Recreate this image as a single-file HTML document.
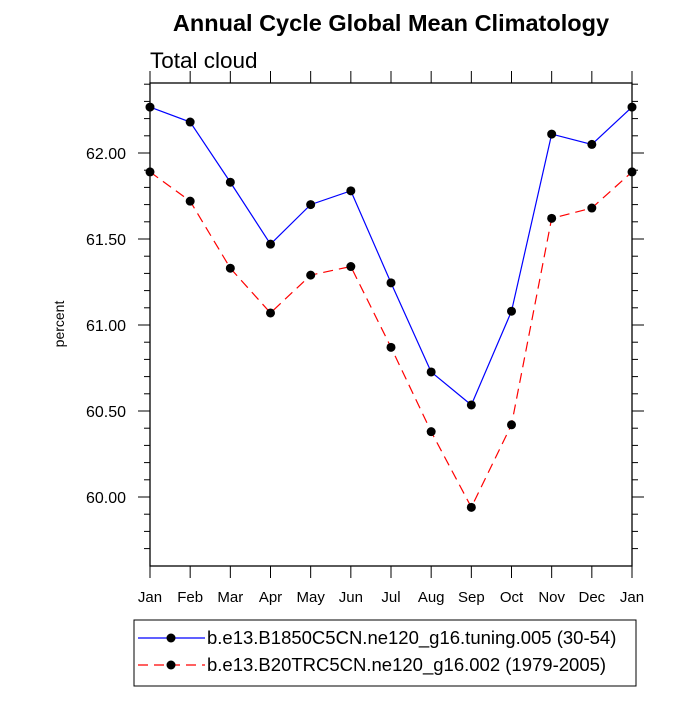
<!DOCTYPE html>
<html><head><meta charset="utf-8"><style>
body{margin:0;background:#fff}
text{font-family:"Liberation Sans",sans-serif}
</style></head><body>
<svg id="c" width="700" height="700" xmlns="http://www.w3.org/2000/svg"></svg>
<script>
const months=["Jan","Feb","Mar","Apr","May","Jun","Jul","Aug","Sep","Oct","Nov","Dec","Jan"];
const blueVals=[62.267,62.18,61.83,61.47,61.70,61.78,61.245,60.727,60.535,61.08,62.11,62.05,62.267];
const redVals=[61.89,61.72,61.33,61.07,61.29,61.34,60.87,60.38,59.94,60.42,61.62,61.68,61.89];
const yTicks=[60.0,60.5,61.0,61.5,62.0];
const yTickLabels=["60.00","60.50","61.00","61.50","62.00"];
const legendLabels=["b.e13.B1850C5CN.ne120_g16.tuning.005 (30-54)","b.e13.B20TRC5CN.ne120_g16.002 (1979-2005)"];
const L=150,R=632,T=83,B=566;
const x=i=>L+i*(R-L)/12;
const y=v=>153-(v-62)*172;
const s=document.getElementById('c');
const NS="http://www.w3.org/2000/svg";
function mk(tag,a,parent){const e=document.createElementNS(NS,tag);for(const k in a)e.setAttribute(k,a[k]);(parent||s).appendChild(e);return e;}
let t=mk('text',{x:391,y:31,'text-anchor':'middle','font-size':23.5,'font-weight':'bold'});t.textContent="Annual Cycle Global Mean Climatology";


t=mk('text',{x:150,y:68,'font-size':22.5});t.textContent="Total cloud";


t=mk('text',{x:0,y:0,'font-size':14,'text-anchor':'middle',transform:'translate(64,324) rotate(-90)'});t.textContent="percent";


let fr=mk('rect',{x:L,y:T,width:R-L,height:B-T,fill:'none',stroke:'#000','stroke-width':1.3});


for(let v=59.7;v<=62.41;v+=0.1){const yy=y(v);if(yy<T-0.5||yy>B+0.5)continue;
const major=Math.abs(v*2-Math.round(v*2))<0.01;const len=major?12:6;
mk('line',{x1:L-len,x2:L,y1:yy,y2:yy,stroke:'#000'});mk('line',{x1:R,x2:R+len,y1:yy,y2:yy,stroke:'#000'});}
yTicks.forEach((v,i)=>{const e=mk('text',{x:126,y:y(v)+6,'text-anchor':'end','font-size':16});e.textContent=yTickLabels[i];

});
months.forEach((m,i)=>{mk('line',{x1:x(i),x2:x(i),y1:B,y2:B+12,stroke:'#000'});mk('line',{x1:x(i),x2:x(i),y1:T-12,y2:T,stroke:'#000'});
const e=mk('text',{x:x(i),y:602,'text-anchor':'middle','font-size':15});e.textContent=m;

});
function series(vals,color,dash,name){
const p=mk('polyline',{points:vals.map((v,i)=>x(i)+','+y(v)).join(' '),fill:'none',stroke:color,'stroke-width':1.2,'stroke-dasharray':dash});


vals.forEach((v,i)=>{const c=mk('circle',{cx:x(i),cy:y(v),r:4.5,fill:'#000'});

});}
series(blueVals,'#0000ff','none','b1850-series');
series(redVals,'#ff0000','10,6','b20tr-series');
const lg=mk('g',{});


mk('rect',{x:134,y:620,width:502,height:66,fill:'none',stroke:'#000'},lg);
[['#0000ff','none'],['#ff0000','10,6']].forEach((st,i)=>{const yy=638+i*27;
mk('line',{x1:138,x2:205,y1:yy,y2:yy,stroke:st[0],'stroke-width':1.2,'stroke-dasharray':st[1]},lg);
mk('circle',{cx:171,cy:yy,r:4.5,fill:'#000'},lg);
const e=mk('text',{x:207,y:yy+6,'font-size':18.5},lg);e.textContent=legendLabels[i];

});
</script>
</body></html>
